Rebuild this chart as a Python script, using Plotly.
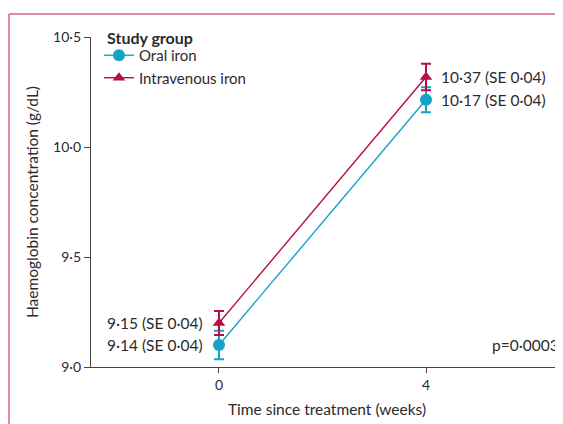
import plotly.graph_objects as go

weeks = [0, 4]
oral_mean = [9.10, 10.215]
oral_err = [0.065, 0.057]
iv_mean = [9.20, 10.318]
iv_err = [0.055, 0.06]
oral_label_val = [9.14, 10.17]
iv_label_val = [9.15, 10.37]
se_val = [0.04, 0.04]
y_ticks = [9.0, 9.5, 10.0, 10.5]
x_ticks = [0, 4]

ORAL = "#14A3C7"
IV = "#B5103F"
BORDER = "#D6668A"
TXT = "#2b2b2b"
FONT = "Lato"


def dot(v, nd):
    return f"{v:.{nd}f}".replace(".", "\u00b7")


fig = go.Figure()
fig.add_trace(go.Scatter(
    x=weeks, y=oral_mean, name="Oral iron", mode="lines+markers",
    line=dict(color=ORAL, width=1.4),
    marker=dict(symbol="circle", size=12, color=ORAL),
    error_y=dict(type="data", array=oral_err, color=ORAL, thickness=2, width=5),
))
fig.add_trace(go.Scatter(
    x=weeks, y=iv_mean, name="Intravenous iron", mode="lines+markers",
    line=dict(color=IV, width=1.4),
    marker=dict(symbol="triangle-up", size=11, color=IV),
    error_y=dict(type="data", array=iv_err, color=IV, thickness=2, width=5),
))

AF = dict(size=15.5, color=TXT, family=FONT)
ann = []
ann.append(dict(x=weeks[0], y=iv_mean[0], xref="x", yref="y", xanchor="right",
                xshift=-14, showarrow=False, font=AF,
                text=f"{dot(iv_label_val[0],2)} (SE {dot(se_val[0],2)})"))
ann.append(dict(x=weeks[0], y=oral_mean[0], xref="x", yref="y", xanchor="right",
                xshift=-14, showarrow=False, font=AF,
                text=f"{dot(oral_label_val[0],2)} (SE {dot(se_val[0],2)})"))
ann.append(dict(x=weeks[1], y=iv_mean[1], xref="x", yref="y", xanchor="left",
                xshift=13, showarrow=False, font=AF,
                text=f"{dot(iv_label_val[1],2)} (SE {dot(se_val[1],2)})"))
ann.append(dict(x=weeks[1], y=oral_mean[1], xref="x", yref="y", xanchor="left",
                xshift=13, showarrow=False, font=AF,
                text=f"{dot(oral_label_val[1],2)} (SE {dot(se_val[1],2)})"))
ann.append(dict(x=6.60, y=oral_mean[0], xref="x", yref="y", xanchor="right",
                showarrow=False, font=AF, text="p=0\u00b70003"))
ann.append(dict(x=0.0297, y=1.0, xref="paper", yref="paper", xanchor="left",
                yanchor="middle", showarrow=False,
                font=dict(size=16, color=TXT, family=FONT),
                text="<b>Study group</b>"))

shapes = [
    dict(type="line", xref="paper", yref="paper", x0=-0.1737, x1=1.0,
         y0=1.0697, y1=1.0697, line=dict(color=BORDER, width=1.5)),
    dict(type="line", xref="paper", yref="paper", x0=-0.1737, x1=-0.1737,
         y0=1.0697, y1=-0.3, line=dict(color=BORDER, width=1.5)),
]

fig.update_layout(
    width=555, height=416,
    margin=dict(l=83, r=0, t=29, b=57),
    paper_bgcolor="white", plot_bgcolor="white",
    font=dict(family=FONT, size=14, color=TXT),
    showlegend=True,
    legend=dict(
        x=0.0169, y=0.994, xanchor="left", yanchor="top",
        bgcolor="rgba(0,0,0,0)", font=dict(size=15, color=TXT),
        tracegroupgap=0, itemwidth=30,
    ),
    annotations=ann,
    shapes=shapes,
    xaxis=dict(
        range=[-2.473, 6.647], tickvals=x_ticks, automargin=False,
        ticktext=[str(v) for v in x_ticks],
        showgrid=False, zeroline=False, showline=True, linecolor="#444",
        linewidth=1.2, ticks="outside", ticklen=5, tickcolor="#444",
        tickfont=dict(size=14),
        title=dict(text="Time since treatment (weeks)", standoff=12,
                   font=dict(size=15.5)),
    ),
    yaxis=dict(
        range=[9.0, 10.5], tickvals=y_ticks, automargin=False,
        ticktext=[dot(v, 1) for v in y_ticks],
        showgrid=False, zeroline=False, showline=True, linecolor="#444",
        linewidth=1.2, ticks="outside", ticklen=6, tickcolor="#444",
        tickfont=dict(size=14),
        title=dict(text="Haemoglobin concentration (g/dL)", standoff=10,
                   font=dict(size=15.5)),
    ),
)

fig.write_html("out.html")
